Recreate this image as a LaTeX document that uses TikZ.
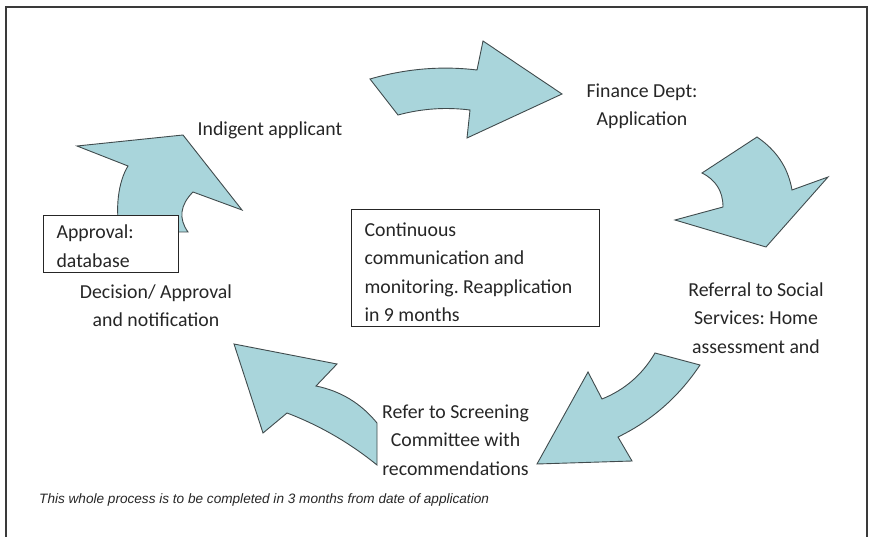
\documentclass[tikz,border=0pt]{standalone}
\usepackage{fontspec}
\setmainfont{Carlito}
\newfontfamily\notefont{Liberation Sans}
\frenchspacing

\definecolor{ArrowFill}{HTML}{A9D5DB}
\definecolor{ArrowLine}{HTML}{404B4D}
\definecolor{TextGray}{HTML}{262626}
\definecolor{FrameGray}{HTML}{3A3A3A}

\newcommand{\stagefont}{\fontsize{19.8}{28.3}\selectfont}

\tikzset{
  cycle-arrow/.style={fill=ArrowFill, draw=ArrowLine, line width=0.9pt},
  stage-label/.style={align=center, font=\stagefont, text=TextGray, inner sep=0pt, anchor=base},
  note-box/.style={draw=black!85, fill=white, line width=1.1pt, align=flush left, anchor=north west,
                   font=\stagefont, text=TextGray, inner xsep=13pt, inner ysep=5pt},
}

\begin{document}
\begin{tikzpicture}[x=1pt, y=-1pt]
  \useasboundingbox (0,0) rectangle (872,537);
  \draw[FrameGray, line width=1.3pt] (6,537) -- (6,7) -- (867,7) -- (867,537);

  % the five arrows of the cycle
  \draw[cycle-arrow] (370,79) .. controls (406,68.7) and (441,65.7) .. (477,70) -- (483,41) -- (562,94)
        -- (467,138) -- (470,110) .. controls (446,107) and (422,108.5) .. (398,115) -- cycle;
  \draw[cycle-arrow] (757,137) -- (702,173) .. controls (716,180) and (723,191.5) .. (723,207) -- (675,220)
        -- (766,247) -- (828,177) -- (792,190) .. controls (788,167) and (776,150) .. (757,137) -- cycle;
  \draw[cycle-arrow] (655,353) -- (700,365) .. controls (679,396.5) and (652,420.5) .. (618,437) -- (632,461)
        -- (537,464) -- (588,372) -- (602,399) .. controls (625,389.7) and (642.6,374.3) .. (655,353) -- cycle;
  \draw[cycle-arrow] (234,344) -- (337,364) -- (316,386) .. controls (340.7,391) and (361,403.4) .. (377,423)
        -- (377,465) .. controls (349.8,442.9) and (319.8,425.5) .. (287,413) -- (263,433) -- cycle;
  \draw[cycle-arrow] (77,146) -- (183,135) -- (242,210) -- (193,192) .. controls (180,205) and (178.4,218.7) .. (188,232)
        -- (120,232) .. controls (115,210) and (118,182) .. (128,166) -- cycle;

  % stages (base = last line)
  \node (applicant) at (270,136) [stage-label] {Indigent applicant};
  \node (finance) at (642,126) [stage-label] {Finance Dept:\\Application};
  \node (referral) at (756,353) [stage-label] {Referral to Social\\Services: Home\\assessment and};
  \node (screening) at (455.5,475) [stage-label] {Refer to Screening\\Committee with\\recommendations};
  \node (decision) at (156,326.7) [stage-label] {Decision/ Approval\\and notification};

  % boxes
  \node (approval) at (43,215) [note-box, text width=109pt] {\rule{0pt}{18.3pt}Approval:\\database};
  \node (monitoring) at (351,209) [note-box, text width=222pt]
        {\rule{0pt}{22pt}Continuous\\communication and\\monitoring. Reapplication\\in 9 months};

  \node (timenote) at (39,503) [anchor=base west, inner sep=0pt, text=TextGray,
        font=\notefont\itshape\fontsize{13.6}{16}\selectfont]
        {This whole process is to be completed in 3 months from date of application};
\end{tikzpicture}
\end{document}
